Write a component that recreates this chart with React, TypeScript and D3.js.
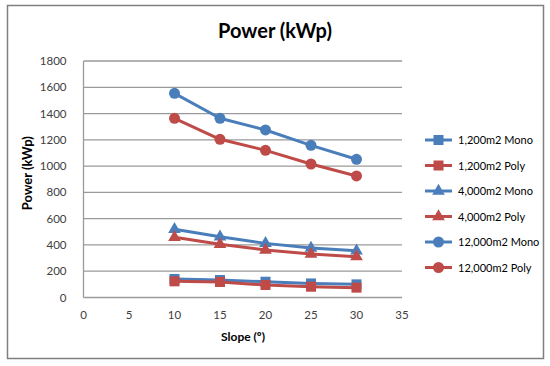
import React from 'react';
import * as d3 from 'd3';

const slopes = [10, 15, 20, 25, 30];

const mono1200 = [141, 133, 120, 107, 100];
const poly1200 = [123, 118, 95, 82, 75];
const mono4000 = [519, 462, 412, 376, 356];
const poly4000 = [458, 405, 361, 331, 311];
const mono12000 = [1554, 1364, 1275, 1158, 1052];
const poly12000 = [1364, 1204, 1120, 1016, 925];

const xTicks = [0, 5, 10, 15, 20, 25, 30, 35];
const yTicks = [0, 200, 400, 600, 800, 1000, 1200, 1400, 1600, 1800];

const BLUE = '#4a7ebb';
const RED = '#be4b48';

const seriesList = [
  { name: '1,200m2 Mono', values: mono1200, color: BLUE, marker: 'square' },
  { name: '1,200m2 Poly', values: poly1200, color: RED, marker: 'square' },
  { name: '4,000m2 Mono', values: mono4000, color: BLUE, marker: 'triangle' },
  { name: '4,000m2 Poly', values: poly4000, color: RED, marker: 'triangle' },
  { name: '12,000m2 Mono', values: mono12000, color: BLUE, marker: 'circle' },
  { name: '12,000m2 Poly', values: poly12000, color: RED, marker: 'circle' },
];

const FONT = 'Lato, "Open Sans", "Liberation Sans", sans-serif';

const Marker = ({ type, x, y, color }: { type: string; x: number; y: number; color: string }) => {
  if (type === 'circle') return <circle cx={x} cy={y} r={5.5} fill={color} />;
  if (type === 'square') return <rect x={x - 5} y={y - 5} width={10} height={10} fill={color} />;
  const sym = d3.symbol().type(d3.symbolTriangle).size(70)();
  return <path d={sym || ''} transform={`translate(${x},${y})`} fill={color} />;
};

export default function App() {
  const width = 550;
  const height = 366;
  const margin = { left: 83.5, right: 148, top: 61, bottom: 68.5 };

  const x = d3.scaleLinear().domain([0, 35]).range([margin.left, width - margin.right]);
  const y = d3.scaleLinear().domain([0, 1800]).range([height - margin.bottom, margin.top]);

  const line = d3
    .line<number>()
    .x((_, i) => x(slopes[i]))
    .y((d) => y(d));

  return (
    <div style={{ position: 'absolute', left: 0, top: 0, width, height, background: '#fff' }}>
      <svg width={width} height={height} style={{ display: 'block', fontFamily: FONT }}>
        <rect x={7.5} y={5.5} width={536} height={353} fill="#fff" stroke="#7f7f7f" strokeWidth={1.5} />

        <text x={275} y={38} textAnchor="middle" fontSize={20} fontWeight="bold" fill="#000">
          Power (kWp)
        </text>

        {/* gridlines */}
        {yTicks.map((t) => (
          <line key={t} x1={x(0)} x2={x(35)} y1={y(t)} y2={y(t)} stroke="#9a9a9a" strokeWidth={1.3} />
        ))}
        <line x1={x(0)} x2={x(0)} y1={y(0)} y2={y(1800)} stroke="#9a9a9a" strokeWidth={1.3} />

        {yTicks.map((t) => (
          <text key={t} x={x(0) - 17} y={y(t) + 4} textAnchor="end" fontSize={11.5} fill="#404040">
            {t}
          </text>
        ))}
        {xTicks.map((t) => (
          <text key={t} x={x(t)} y={y(0) + 21} textAnchor="middle" fontSize={11.5} fill="#404040">
            {t}
          </text>
        ))}

        <text x={243} y={341} textAnchor="middle" fontSize={12} fontWeight="bold" fill="#000">
          Slope (º)
        </text>
        <text
          transform={`translate(32, ${y(900) - 6}) rotate(-90)`}
          textAnchor="middle"
          fontSize={13}
          fontWeight="bold"
          fill="#000"
        >
          Power (kWp)
        </text>

        {seriesList.map((s) => (
          <g key={s.name}>
            <path d={line(s.values) || ''} fill="none" stroke={s.color} strokeWidth={3} strokeLinejoin="round" />
            {s.values.map((v, i) => (
              <Marker key={i} type={s.marker} x={x(slopes[i])} y={y(v)} color={s.color} />
            ))}
          </g>
        ))}

        {/* legend */}
        {seriesList.map((s, i) => {
          const ly = 140 + i * 25.5;
          return (
            <g key={s.name}>
              <line x1={425} x2={452} y1={ly} y2={ly} stroke={s.color} strokeWidth={3} />
              <Marker type={s.marker} x={438.5} y={ly} color={s.color} />
              <text x={458} y={ly + 4} fontSize={11} fill="#000">
                {s.name}
              </text>
            </g>
          );
        })}
      </svg>
    </div>
  );
}
